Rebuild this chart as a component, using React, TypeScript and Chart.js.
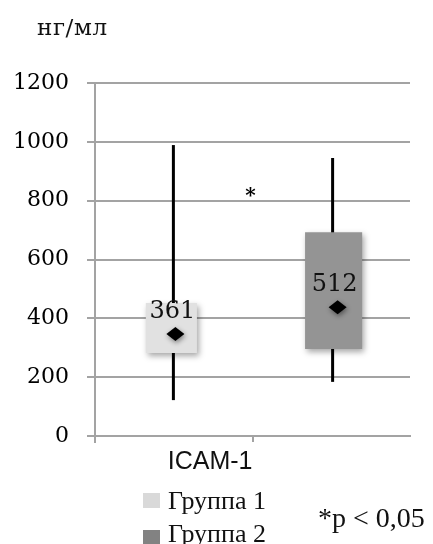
import React, { useEffect, useRef } from "react";
import { Chart, registerables } from "chart.js";

Chart.register(...registerables);

const categories = ["ICAM-1"];
const groupLabels = ["Группа 1", "Группа 2"];
const boxColors = ["#e1e1e1", "#949494"];
const legendColors = ["#d9d9d9", "#828282"];
const q1Values = [282, 296];
const q3Values = [452, 693];
const minValues = [122, 184];
const maxValues = [989, 945];
const centerValues = [347, 438];
const meanLabels = ["361", "512"];
const starValue = 812;
const yTicks = [0, 200, 400, 600, 800, 1000, 1200];
const unitLabel = "нг/мл";
const pNote = "*p < 0,05";

const boxPlugin = {
  id: "boxExtras",
  beforeDatasetsDraw(chart: any) {
    const ctx = chart.ctx;
    const y = chart.scales.y;
    const area = chart.chartArea;
    ctx.save();
    ctx.strokeStyle = "#a3a3a3";
    ctx.lineWidth = 2;
    ctx.beginPath();
    ctx.moveTo(area.left, area.bottom);
    ctx.lineTo(area.left, area.bottom + 7);
    ctx.stroke();
    ctx.strokeStyle = "#000";
    ctx.lineWidth = 3;
    chart.data.datasets.forEach((_: any, i: number) => {
      const el = chart.getDatasetMeta(i).data[0];
      if (!el) return;
      const wx = el.x + (i === 0 ? 2 : -1);
      ctx.beginPath();
      ctx.moveTo(wx, y.getPixelForValue(maxValues[i]));
      ctx.lineTo(wx, y.getPixelForValue(minValues[i]));
      ctx.stroke();
    });
    ctx.restore();
    ctx.save();
    ctx.shadowColor = "rgba(0,0,0,0.35)";
    ctx.shadowBlur = 6;
    ctx.shadowOffsetX = 2;
    ctx.shadowOffsetY = 3;
  },
  afterDatasetsDraw(chart: any) {
    const ctx = chart.ctx;
    ctx.restore();
    const y = chart.scales.y;
    const x = chart.scales.x;
    chart.data.datasets.forEach((_: any, i: number) => {
      const el = chart.getDatasetMeta(i).data[0];
      if (!el) return;
      const cy = y.getPixelForValue(centerValues[i]);
      const cx = el.x + 4;
      ctx.save();
      ctx.shadowColor = "rgba(0,0,0,0.45)";
      ctx.shadowBlur = 5;
      ctx.shadowOffsetX = 1;
      ctx.shadowOffsetY = 2;
      ctx.fillStyle = "#000";
      ctx.beginPath();
      ctx.moveTo(cx, cy - 7);
      ctx.lineTo(cx + 9, cy);
      ctx.lineTo(cx, cy + 7);
      ctx.lineTo(cx - 9, cy);
      ctx.closePath();
      ctx.fill();
      ctx.restore();
      ctx.save();
      ctx.fillStyle = "#111";
      ctx.font = "24px 'DejaVu Serif'";
      ctx.textAlign = "center";
      ctx.textBaseline = "middle";
      ctx.fillText(meanLabels[i], el.x + 1, cy - 22);
      ctx.restore();
    });
    ctx.save();
    ctx.fillStyle = "#000";
    ctx.font = "bold 20px 'DejaVu Serif'";
    ctx.textAlign = "center";
    ctx.textBaseline = "middle";
    ctx.fillText("*", x.getPixelForValue(0) - 2, y.getPixelForValue(starValue));
    ctx.restore();
  },
};

export default function App() {
  const ref = useRef<HTMLCanvasElement | null>(null);
  useEffect(() => {
    if (!ref.current) return;
    const chart = new Chart(ref.current, {
      type: "bar",
      data: {
        labels: categories,
        datasets: groupLabels.map((lab, i) => ({
          label: lab,
          data: [[q1Values[i], q3Values[i]]] as any,
          backgroundColor: boxColors[i],
          borderWidth: 0,
          barPercentage: i === 0 ? 0.315 : 0.352,
          categoryPercentage: 1.03,
        })),
      },
      options: {
        animation: false,
        responsive: true,
        maintainAspectRatio: false,
        layout: { padding: { top: 83, right: 23, left: 0, bottom: 0 } },
        plugins: {
          legend: { display: false },
          tooltip: { enabled: false },
          title: { display: false },
        },
        scales: {
          x: {
            afterFit(s: any) {
              s.height = 108;
            },
            grid: {
              offset: false,
              drawOnChartArea: false,
              color: "#a3a3a3",
              lineWidth: 2,
              tickLength: 6,
            },
            border: { color: "#a3a3a3", width: 2 },
            ticks: {
              color: "#111",
              padding: 5,
              align: "end",
              font: { family: "'Liberation Sans'", size: 25 },
            },
          },
          y: {
            min: 0,
            max: 1200,
            afterFit(s: any) {
              s.width = 95;
            },
            afterBuildTicks(s: any) {
              s.ticks = yTicks.map((v) => ({ value: v }));
            },
            grid: { color: "#a3a3a3", lineWidth: 2, tickLength: 8 },
            border: { color: "#a3a3a3", width: 2 },
            ticks: {
              color: "#000",
              padding: 18,
              callback: (v: any) => String(v),
              font: { family: "'DejaVu Serif'", size: 22 },
            },
          },
        },
      },
      plugins: [boxPlugin],
    });
    return () => chart.destroy();
  }, []);

  const serif = "'Liberation Serif', serif";
  return (
    <div style={{ position: "absolute", left: 0, top: 0, width: 433, height: 544, overflow: "hidden", background: "#fff" }}>
      <canvas ref={ref} />
      <div style={{ position: "absolute", left: 37, top: 16, font: "23px 'DejaVu Serif'", letterSpacing: "0.6px", lineHeight: 1, color: "#111", whiteSpace: "nowrap" }}>
        {unitLabel}
      </div>
      {groupLabels.map((lab, i) => (
        <React.Fragment key={lab}>
          <span style={{ position: "absolute", left: 143, top: i === 0 ? 493 : 530, width: 17, height: 15, background: legendColors[i] }} />
          <span style={{ position: "absolute", left: 168, top: i === 0 ? 488 : 521, font: `26px ${serif}`, lineHeight: 1, color: "#111", whiteSpace: "nowrap" }}>{lab}</span>
        </React.Fragment>
      ))}
      <div style={{ position: "absolute", left: 318, top: 504, font: `28px ${serif}`, lineHeight: 1, color: "#111", whiteSpace: "nowrap" }}>
        {pNote}
      </div>
    </div>
  );
}
